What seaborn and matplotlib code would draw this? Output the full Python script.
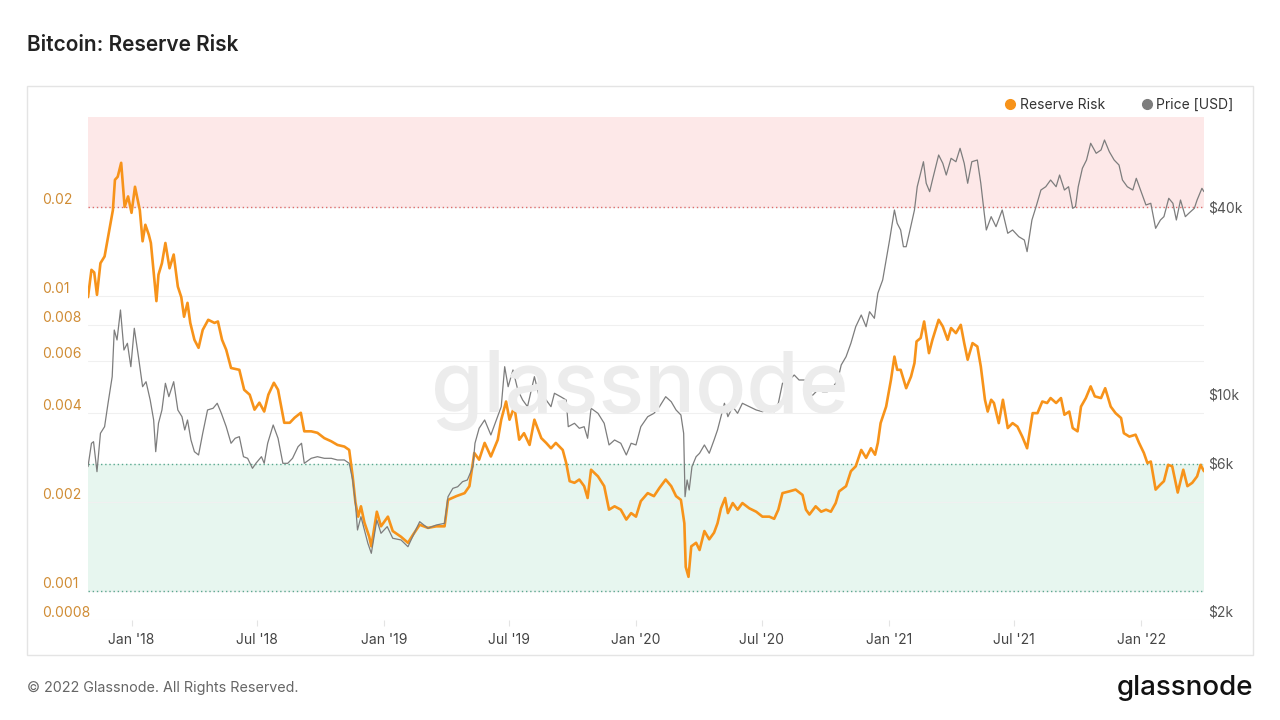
import pandas as pd
import seaborn as sns
import matplotlib.pyplot as plt
import matplotlib.dates as mdates
import matplotlib.ticker as mticker
from matplotlib.lines import Line2D
from matplotlib.patches import Rectangle

# values, x = days counted from 2018-01-01
rr_days = [-63, -58, -54, -50, -45, -39, -33, -27, -24, -20,
           -15, -10, -5, 0, 5, 12, 16, 20, 25, 28,
           32, 36, 39, 44, 49, 55, 61, 67, 72, 76,
           81, 85, 91, 97, 103, 111, 120, 125, 131, 137,
           144, 156, 163, 171, 178, 185, 192, 198, 206, 212,
           221, 229, 236, 245, 250, 260, 269, 279, 289, 298,
           308, 315, 320, 324, 328, 332, 337, 344, 347, 355,
           361, 371, 378, 390, 400, 407, 417, 429, 441, 453,
           458, 470, 482, 489, 496, 503, 511, 520, 530, 535,
           542, 547, 554, 561, 568, 576, 583, 593, 600, 607,
           614, 624, 629, 634, 641, 648, 655, 660, 665, 675,
           684, 691, 699, 708, 716, 723, 730, 737, 747, 756,
           764, 773, 781, 788, 795, 800, 802, 806, 810, 817,
           822, 829, 836, 843, 848, 853, 859, 863, 870, 877,
           884, 894, 904, 913, 923, 930, 936, 942, 952, 961,
           971, 976, 981, 990, 998, 1005, 1012, 1019, 1024, 1034,
           1041, 1048, 1056, 1063, 1070, 1076, 1080, 1084, 1092, 1099,
           1104, 1108, 1113, 1121, 1128, 1133, 1136, 1142, 1147, 1154,
           1159, 1168, 1174, 1181, 1186, 1193, 1200, 1205, 1210, 1217,
           1224, 1229, 1235, 1239, 1244, 1248, 1255, 1261, 1268, 1275,
           1282, 1289, 1296, 1304, 1311, 1318, 1325, 1330, 1338, 1345,
           1350, 1357, 1362, 1369, 1374, 1381, 1388, 1394, 1403, 1409,
           1417, 1424, 1432, 1436, 1444, 1453, 1458, 1465, 1470, 1475,
           1482, 1489, 1494, 1500, 1506, 1514, 1522, 1528, 1535, 1542,
           1547, 1552]
rr_vals = [0.0099, 0.01225, 0.0120, 0.01008, 0.0129, 0.0136, 0.0163, 0.0195, 0.0247, 0.0253,
           0.0282, 0.0200, 0.0217, 0.0191, 0.0234, 0.0195, 0.0153, 0.0174, 0.0161, 0.0151,
           0.0120, 0.0096, 0.0118, 0.0129, 0.0151, 0.0124, 0.0138, 0.01075, 0.0099, 0.0085,
           0.00947, 0.0081, 0.0071, 0.00667, 0.00767, 0.0083, 0.0081, 0.00819, 0.0071, 0.00657,
           0.0057, 0.00562, 0.00481, 0.00463, 0.00412, 0.00435, 0.00406, 0.00463, 0.00508, 0.00481,
           0.00372, 0.00372, 0.00387, 0.00402, 0.00348, 0.00348, 0.00344, 0.0033, 0.00322, 0.00313,
           0.00309, 0.00301, 0.00245, 0.0020, 0.00179, 0.00194, 0.00171, 0.00153, 0.00142, 0.00186,
           0.00166, 0.00179, 0.0016, 0.00153, 0.00146, 0.00155, 0.00168, 0.00164, 0.00166, 0.00166,
           0.00204, 0.0021, 0.00215, 0.00227, 0.00294, 0.00279, 0.00318, 0.00286, 0.00326, 0.00381,
           0.00439, 0.00381, 0.00422, 0.00326, 0.00343, 0.00313, 0.00381, 0.0033, 0.00318, 0.00305,
           0.00318, 0.00301, 0.00272, 0.00236, 0.00233, 0.00239, 0.00227, 0.00207, 0.00258, 0.00245,
           0.00227, 0.00189, 0.00194, 0.00189, 0.00175, 0.00184, 0.00179, 0.00202, 0.00215, 0.0021,
           0.00224, 0.00239, 0.00227, 0.0021, 0.00204, 0.0017, 0.00121, 0.00112, 0.00142, 0.00146,
           0.00138, 0.0016, 0.0015, 0.00158, 0.0017, 0.00191, 0.00207, 0.00184, 0.00199, 0.00189,
           0.00199, 0.00191, 0.00186, 0.00179, 0.00179, 0.00176, 0.00189, 0.00215, 0.00218, 0.00221,
           0.00212, 0.00189, 0.00182, 0.00194, 0.00186, 0.00189, 0.00186, 0.00199, 0.00218, 0.00227,
           0.00255, 0.00265, 0.00301, 0.00283, 0.00305, 0.0029, 0.00318, 0.00371, 0.00422, 0.0052,
           0.00623, 0.00562, 0.00562, 0.00487, 0.00533, 0.00592, 0.00701, 0.0072, 0.00819, 0.0064,
           0.0071, 0.0083, 0.00788, 0.0071, 0.00778, 0.00748, 0.00798, 0.00692, 0.00608, 0.00692,
           0.00674, 0.00577, 0.00445, 0.00406, 0.00445, 0.00434, 0.00371, 0.00445, 0.00357, 0.00371,
           0.00361, 0.00334, 0.00305, 0.00401, 0.00401, 0.00439, 0.00434, 0.00451, 0.00434, 0.00451,
           0.00396, 0.00406, 0.00357, 0.00348, 0.00422, 0.00451, 0.00494, 0.00457, 0.00451, 0.00487,
           0.00422, 0.00401, 0.00386, 0.00343, 0.00334, 0.00339, 0.00318, 0.00294, 0.00272, 0.00275,
           0.00221, 0.0023, 0.00236, 0.00268, 0.00265, 0.00216, 0.00258, 0.00227, 0.00233, 0.00245,
           0.00268, 0.00255]

price_days = [-63, -58, -55, -50, -45, -39, -34, -28, -25, -21,
              -16, -11, -6, -1, 4, 10, 16, 21, 27, 32,
              35, 39, 44, 49, 54, 61, 67, 73, 77, 81,
              86, 91, 97, 103, 110, 118, 124, 130, 137, 144,
              150, 156, 162, 168, 175, 180, 188, 192, 197, 205,
              212, 219, 226, 233, 241, 246, 250, 260, 269, 279,
              289, 298, 308, 315, 320, 324, 327, 332, 337, 342,
              347, 355, 361, 370, 378, 390, 400, 409, 417, 429,
              441, 453, 458, 465, 472, 479, 486, 494, 497, 503,
              511, 520, 528, 535, 540, 545, 552, 559, 566, 573,
              583, 590, 600, 607, 612, 621, 629, 632, 641, 648,
              655, 660, 665, 675, 684, 691, 699, 708, 716, 723,
              730, 737, 747, 756, 764, 773, 781, 788, 795, 799,
              801, 804, 807, 811, 817, 822, 829, 836, 843, 848,
              853, 858, 863, 870, 877, 884, 894, 904, 913, 923,
              930, 936, 942, 952, 959, 966, 974, 978, 986, 993,
              1000, 1007, 1014, 1022, 1027, 1034, 1041, 1048, 1056, 1063,
              1068, 1075, 1080, 1087, 1092, 1097, 1104, 1108, 1113, 1117,
              1121, 1126, 1133, 1137, 1146, 1150, 1155, 1159, 1168, 1174,
              1179, 1186, 1193, 1199, 1205, 1210, 1216, 1224, 1229, 1234,
              1237, 1244, 1251, 1260, 1268, 1275, 1284, 1292, 1296, 1303,
              1309, 1316, 1323, 1330, 1338, 1343, 1350, 1356, 1362, 1366,
              1370, 1376, 1382, 1388, 1396, 1403, 1408, 1415, 1422, 1429,
              1434, 1441, 1449, 1454, 1461, 1468, 1475, 1482, 1489, 1494,
              1501, 1507, 1512, 1518, 1525, 1530, 1538, 1542, 1549, 1552]
price_vals = [5840, 6940, 7025, 5626, 7474, 7850, 9335, 11367, 16060, 14915,
              18625, 13850, 14555, 12240, 16265, 13180, 10555, 10953, 9566, 8250,
              6523, 8050, 8884, 10825, 9802, 10953, 8884, 8453, 7662, 8250,
              7113, 6523, 6366, 7474, 8884, 8996, 9335, 8667, 7850, 6943,
              7205, 7291, 6286, 6211, 5768, 5985, 6286, 5985, 6943, 7950,
              7205, 5985, 5985, 6211, 6770, 6943, 5985, 6211, 6286, 6211,
              6211, 6135, 6135, 5985, 5291, 4452, 3653, 4031, 3653, 3311,
              3074, 3934, 3565, 3745, 3436, 3393, 3228, 3565, 3885, 3700,
              3791, 3838, 4675, 4973, 5032, 5224, 5291, 5836, 6943, 7757,
              8250, 7384, 8250, 9103, 12240, 10555, 11944, 10301, 9566, 9103,
              11367, 9802, 9566, 9103, 10053, 9802, 9566, 7850, 8050, 7757,
              7850, 7205, 8996, 8667, 8050, 6857, 7113, 6943, 6366, 6943,
              6857, 7850, 8453, 8667, 9103, 9802, 9445, 8884, 8561, 7474,
              4675, 5291, 4911, 5836, 6286, 6447, 6857, 6447, 7113, 7662,
              8453, 9335, 8453, 9103, 8667, 9335, 9103, 8884, 8772, 8884,
              8772, 9335, 10825, 11092, 11510, 11092, 11092, 9802, 9926, 10301,
              10172, 10172, 10430, 11092, 12396, 13180, 14555, 16460, 17950, 16460,
              18390, 17515, 21080, 23260, 26970, 31270, 39050, 35390, 33680, 29760,
              29760, 33260, 39050, 46400, 55830, 47600, 44720, 48760, 58680, 55180,
              50600, 57260, 55830, 61660, 55180, 47600, 55830, 56540, 47600, 38110,
              33680, 37170, 34510, 39050, 32870, 33680, 32050, 31270, 28690, 36270,
              40030, 45280, 46400, 48760, 46400, 50600, 45280, 46400, 39550, 40030,
              46400, 53180, 56540, 64000, 59430, 60910, 65570, 60120, 56540, 54480,
              48760, 46400, 45280, 49380, 44720, 40530, 41040, 34100, 36270, 37170,
              42590, 41040, 36270, 42050, 37170, 38110, 39550, 42050, 45850, 44720]

rr_ticks = [0.0008, 0.001, 0.002, 0.004, 0.006, 0.008, 0.01, 0.02]
rr_tick_labels = ["0.0008", "0.001", "0.002", "0.004", "0.006", "0.008", "0.01", "0.02"]
price_ticks = [2000, 6000, 10000, 40000]
price_tick_labels = ["$2k", "$6k", "$10k", "$40k"]
high_risk = 0.02
low_band = (0.001, 0.0027)

ORANGE = "#f7931a"
GRAY = "#7d7d7d"

sns.set_theme(style="white")
plt.rcParams['font.family'] = ['Inter', 'DejaVu Sans']

start = pd.Timestamp("2018-01-01")
rr_df = pd.DataFrame({"date": start + pd.to_timedelta(rr_days, unit="D"), "rr": rr_vals})
price_df = pd.DataFrame({"date": start + pd.to_timedelta(price_days, unit="D"), "price": price_vals})

fig = plt.figure(figsize=(12.8, 7.2), dpi=100)
fig.patch.set_facecolor("white")

# outer panel frame
fig.add_artist(Rectangle((27 / 1280, 1 - 655 / 720), 1226 / 1280, 569 / 720,
                         transform=fig.transFigure, facecolor="none",
                         edgecolor="#e4e4e4", lw=1))

ax = fig.add_axes([88 / 1280, 1 - 620 / 720, 1116 / 1280, 503 / 720])
ax.set_yscale("log")
ax.set_ylim(0.0008, 0.0403)

# zones
ax.axhspan(high_risk, 0.05, color="#fde8e8", zorder=0, lw=0)
ax.axhline(high_risk, color="#e06a6a", ls=(0, (1, 2)), lw=1, zorder=1)
ax.axhspan(low_band[0], low_band[1], color="#e7f6ef", zorder=0, lw=0)
for v in low_band:
    ax.axhline(v, color="#5aa88f", ls=(0, (1, 2)), lw=1, zorder=1)

fig.text(640 / 1280, 1 - 412 / 720, "glassnode", ha="center", va="baseline",
         fontsize=61, color="#ececec", zorder=0.5, weight="medium")

sns.lineplot(data=rr_df, x="date", y="rr", ax=ax, color=ORANGE, linewidth=1.9, zorder=3)

ax2 = ax.twinx()
sns.lineplot(data=price_df, x="date", y="price", ax=ax2, color=GRAY, linewidth=0.9, zorder=4)
ax2.set_yscale("log")
ax2.set_ylim(1876, 77750)

ax.set_xlim(rr_df["date"].min(), rr_df["date"].max())

# left axis
ax.set_yticks(rr_ticks, labels=rr_tick_labels)
ax.yaxis.set_minor_locator(mticker.NullLocator())
ax.tick_params(axis="y", length=0, pad=33, labelcolor="#d08c34", labelsize=10)
for lab in ax.get_yticklabels():
    lab.set_ha("left")
    lab.set_va("bottom")
ax.grid(axis="y", color="#f0f0f0", lw=0.8)
ax.grid(axis="x", visible=False)

# right axis
ax2.set_yticks(price_ticks, labels=price_tick_labels)
ax2.yaxis.set_minor_locator(mticker.NullLocator())
ax2.tick_params(axis="y", length=0, pad=3, labelcolor="#555555", labelsize=10)
ax2.grid(False)

# dates
ax.xaxis.set_major_locator(mdates.MonthLocator(bymonth=[1, 7]))
ax.xaxis.set_major_formatter(mdates.DateFormatter("%b '%y"))
ax.tick_params(axis="x", bottom=True, length=4, width=0.8, color="#e4e4e4",
               labelcolor="#444444", labelsize=10, pad=5)

for a in (ax, ax2):
    a.set_xlabel("")
    a.set_ylabel("")
    for s in a.spines.values():
        s.set_visible(False)

handles = [Line2D([], [], marker="o", ls="", color=ORANGE, markersize=7),
           Line2D([], [], marker="o", ls="", color=GRAY, markersize=7)]
leg = fig.legend(handles, ["Reserve Risk", "Price [USD]"], loc="center right",
                 bbox_to_anchor=(1246 / 1280, 1 - 105 / 720), ncol=2, frameon=False,
                 fontsize=10, handletextpad=0.1, columnspacing=2.4, handlelength=1.2)
for t in leg.get_texts():
    t.set_color("#333333")

fig.text(27 / 1280, 1 - 45 / 720, "Bitcoin: Reserve Risk", ha="left", va="center",
         fontsize=15, weight="semibold", color="#222222")
fig.text(27 / 1280, 1 - 688 / 720, "\u00a9 2022 Glassnode. All Rights Reserved.",
         ha="left", va="center", fontsize=10.3, color="#666666")
fig.text(1253 / 1280, 1 - 695 / 720, "glassnode", ha="right", va="baseline",
         fontsize=20, color="#111111", weight="medium")

fig.savefig("out.png", dpi=100, facecolor="white")
